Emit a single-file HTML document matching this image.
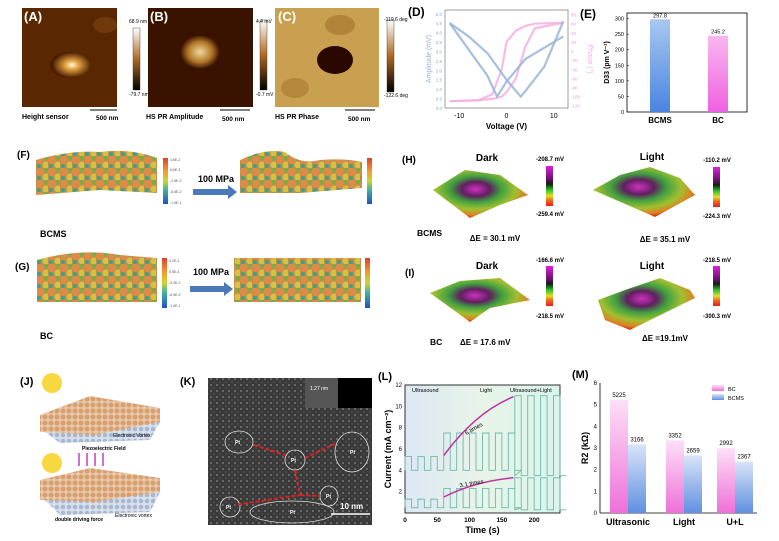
<!DOCTYPE html>
<html><head><meta charset="utf-8"><style>
body{margin:0;background:#fff;}
svg{display:block;font-family:"Liberation Sans",Arial,sans-serif;}
</style></head><body>
<svg id="fig" width="779" height="541" viewBox="0 0 779 541">
<defs>
<radialGradient id="gA" cx="0.55" cy="0.5" r="0.5"><stop offset="0" stop-color="#fff6d8"/><stop offset="0.35" stop-color="#e0a040"/><stop offset="1" stop-color="#4a1a00"/></radialGradient>
<radialGradient id="gB" cx="0.5" cy="0.5" r="0.5"><stop offset="0" stop-color="#f2d9a0"/><stop offset="0.6" stop-color="#b07828"/><stop offset="1" stop-color="#3a1000"/></radialGradient>
<linearGradient id="cbBrown" x1="0" y1="0" x2="0" y2="1"><stop offset="0" stop-color="#fff"/><stop offset="0.5" stop-color="#b06a20"/><stop offset="1" stop-color="#000"/></linearGradient>
<linearGradient id="cbRainbow" x1="0" y1="0" x2="0" y2="1"><stop offset="0" stop-color="#e04030"/><stop offset="0.3" stop-color="#f0a030"/><stop offset="0.5" stop-color="#c8d830"/><stop offset="0.7" stop-color="#40b0a0"/><stop offset="1" stop-color="#2050c0"/></linearGradient>
<linearGradient id="cbKPFM" x1="0" y1="0" x2="0" y2="1"><stop offset="0" stop-color="#e020e0"/><stop offset="0.35" stop-color="#601060"/><stop offset="0.45" stop-color="#102010"/><stop offset="0.6" stop-color="#30c030"/><stop offset="0.75" stop-color="#e0e020"/><stop offset="0.85" stop-color="#f07020"/><stop offset="1" stop-color="#e02020"/></linearGradient>
<radialGradient id="surf" cx="0.45" cy="0.4" r="0.6"><stop offset="0" stop-color="#d030c0"/><stop offset="0.25" stop-color="#602060"/><stop offset="0.45" stop-color="#40a040"/><stop offset="0.7" stop-color="#a0c030"/><stop offset="0.9" stop-color="#e08020"/><stop offset="1" stop-color="#d03020"/></radialGradient>
<linearGradient id="bcmsBar" x1="0" y1="0" x2="0" y2="1"><stop offset="0" stop-color="#a8c8f0"/><stop offset="1" stop-color="#4a84e0"/></linearGradient>
<linearGradient id="bcBar" x1="0" y1="0" x2="0" y2="1"><stop offset="0" stop-color="#f8b8f0"/><stop offset="1" stop-color="#f060e0"/></linearGradient>
<linearGradient id="mPink" x1="0" y1="0" x2="0" y2="1"><stop offset="0" stop-color="#fde0f8"/><stop offset="1" stop-color="#ee70d8"/></linearGradient>
<linearGradient id="mBlue" x1="0" y1="0" x2="0" y2="1"><stop offset="0" stop-color="#d8e4f8"/><stop offset="1" stop-color="#6090e0"/></linearGradient>
<linearGradient id="lBg" x1="0" y1="0" x2="1" y2="0"><stop offset="0" stop-color="#dce8f4"/><stop offset="0.5" stop-color="#e8f4e8"/><stop offset="1" stop-color="#d8f4ec"/></linearGradient>
<pattern id="balls" width="12" height="12" patternUnits="userSpaceOnUse"><rect width="12" height="12" fill="#b89050"/><circle cx="4" cy="4" r="4" fill="#e08a48"/><circle cx="10" cy="9" r="3.5" fill="#d8c040"/><circle cx="3" cy="10" r="2" fill="#40a080"/><circle cx="10" cy="2" r="2" fill="#70b040"/></pattern>
<pattern id="tem" width="6" height="6" patternUnits="userSpaceOnUse"><rect width="6" height="6" fill="#3a3a3a"/><circle cx="1" cy="1" r="1" fill="#777"/><circle cx="4" cy="4" r="0.8" fill="#5a5a5a"/></pattern>
<pattern id="slab" width="6" height="6" patternUnits="userSpaceOnUse"><rect width="6" height="6" fill="#e8c8a8"/><circle cx="3" cy="3" r="2.5" fill="#d8a070"/></pattern>
<pattern id="slab2" width="6" height="6" patternUnits="userSpaceOnUse"><rect width="6" height="6" fill="#d8e0ec"/><circle cx="3" cy="3" r="2.3" fill="#a8b8d0"/></pattern>
</defs>

<g>
<rect x="22" y="8" width="95" height="99" fill="#5a2800"/>
<ellipse cx="70" cy="65" rx="20" ry="13" fill="url(#gA)"/>
<ellipse cx="105" cy="25" rx="12" ry="8" fill="#7a4010" opacity="0.7"/>
<text x="24" y="21" font-size="13" font-weight="bold" fill="#fff">(A)</text>
<rect x="133" y="28" width="7" height="62" fill="url(#cbBrown)" stroke="#333" stroke-width="0.4"/>
<text x="129" y="23" font-size="5">68.9 nm</text><text x="129" y="96" font-size="5">-79.7 nm</text>
<text x="22" y="119" font-size="7" font-weight="bold">Height sensor</text>
<line x1="90" y1="110" x2="117" y2="110" stroke="#000"/><text x="96" y="120" font-size="6.5" font-weight="bold">500 nm</text>
</g>
<g>
<rect x="148" y="8" width="105" height="99" fill="#3a1200"/>
<ellipse cx="200" cy="52" rx="20" ry="17" fill="url(#gB)"/>
<text x="150" y="21" font-size="13" font-weight="bold" fill="#fff">(B)</text>
<rect x="260" y="20" width="7" height="70" fill="url(#cbBrown)" stroke="#333" stroke-width="0.4"/>
<text x="256" y="23" font-size="5">4.4 mV</text><text x="256" y="96" font-size="5">-0.7 mV</text>
<text x="146" y="119" font-size="7" font-weight="bold">HS PR Amplitude</text>
<line x1="220" y1="110" x2="250" y2="110" stroke="#000"/><text x="222" y="121" font-size="6.5" font-weight="bold">500 nm</text>
</g>
<g>
<rect x="275" y="8" width="104" height="99" fill="#c8a050"/>
<ellipse cx="340" cy="25" rx="15" ry="10" fill="#a87830" opacity="0.7"/>
<ellipse cx="295" cy="88" rx="14" ry="10" fill="#a87830" opacity="0.6"/>
<ellipse cx="335" cy="60" rx="18" ry="14" fill="#2a0800"/>
<text x="278" y="21" font-size="13" font-weight="bold" fill="#fff">(C)</text>
<text x="275" y="119" font-size="7" font-weight="bold">HS PR Phase</text>
<line x1="345" y1="110" x2="375" y2="110" stroke="#000"/><text x="348" y="121" font-size="6.5" font-weight="bold">500 nm</text>
</g>
<g>
<rect x="387" y="20" width="7" height="72" fill="url(#cbBrown)" stroke="#333" stroke-width="0.4"/>
<text x="384" y="21" font-size="5">-119.6 deg</text><text x="384" y="97" font-size="5">-122.6 deg</text>
</g>

<g id="panelD"><text x="408" y="16" font-size="12" font-weight="bold">(D)</text></g>
<g id="panelE"><text x="580" y="18" font-size="12" font-weight="bold">(E)</text></g>

<!-- F -->
<g>
<text x="17" y="158" font-size="10" font-weight="bold">(F)</text>
<path d="M36 160 Q70 150 100 152 Q130 148 157 158 L157 193 L100 190 L36 195 Z" fill="url(#balls)"/>
<rect x="163" y="158" width="5" height="46" fill="url(#cbRainbow)"/>
<g font-size="3.5" fill="#555"><text x="170" y="161">4.6E-2</text><text x="170" y="171">6.6E-3</text><text x="170" y="182">-2.6E-2</text><text x="170" y="193">-6.6E-2</text><text x="170" y="204">-1.0E-1</text></g>
<text x="198" y="182" font-size="9" font-weight="bold">100 MPa</text>
<path d="M193 189 L228 189 L228 185 L237 192 L228 199 L228 195 L193 195 Z" fill="#4a78b8"/>
<path d="M240 160 Q265 148 285 152 Q300 165 320 160 Q345 158 362 162 L362 188 L300 193 L240 193 Z" fill="url(#balls)"/>
<rect x="367" y="158" width="5" height="46" fill="url(#cbRainbow)"/>
<text x="40" y="237" font-size="9" font-weight="bold">BCMS</text>
</g>
<!-- G -->
<g>
<text x="15" y="270" font-size="10" font-weight="bold">(G)</text>
<path d="M37 260 Q80 248 120 255 L157 258 L157 302 L37 302 Z" fill="url(#balls)"/>
<rect x="162" y="258" width="5" height="50" fill="url(#cbRainbow)"/>
<g font-size="3.5" fill="#555"><text x="169" y="262">4.2E-2</text><text x="169" y="273">5.5E-3</text><text x="169" y="284">-3.2E-2</text><text x="169" y="296">-6.9E-2</text><text x="169" y="307">-1.0E-1</text></g>
<text x="193" y="275" font-size="9" font-weight="bold">100 MPa</text>
<path d="M190 286 L224 286 L224 282 L233 289 L224 296 L224 292 L190 292 Z" fill="#4a78b8"/>
<rect x="234" y="258" width="127" height="44" fill="url(#balls)"/>
<rect x="365" y="258" width="5" height="50" fill="url(#cbRainbow)"/>
<text x="40" y="339" font-size="9" font-weight="bold">BC</text>
</g>

<!-- H -->
<g font-weight="bold">
<text x="402" y="163" font-size="10">(H)</text>
<text x="487" y="161" font-size="10" text-anchor="middle">Dark</text>
<path d="M433 190 L465 170 L500 175 L528 195 L500 205 L470 218 Z" fill="url(#surf)"/>
<rect x="546" y="166" width="7" height="40" fill="url(#cbKPFM)"/>
<text x="550" y="161" font-size="6" text-anchor="middle">-208.7 mV</text><text x="550" y="216" font-size="6" text-anchor="middle">-259.4 mV</text>
<text x="652" y="160" font-size="10" text-anchor="middle">Light</text>
<path d="M593 190 L620 175 L650 167 L680 178 L695 195 L655 217 Z" fill="url(#surf)"/>
<rect x="713" y="167" width="7" height="40" fill="url(#cbKPFM)"/>
<text x="717" y="162" font-size="6" text-anchor="middle">-110.2 mV</text><text x="717" y="218" font-size="6" text-anchor="middle">-224.3 mV</text>
<text x="417" y="236" font-size="8.5">BCMS</text>
<text x="495" y="241" font-size="8" text-anchor="middle">ΔE = 30.1 mV</text>
<text x="665" y="242" font-size="8" text-anchor="middle">ΔE = 35.1 mV</text>
</g>
<!-- I -->
<g font-weight="bold">
<text x="405" y="276" font-size="10">(I)</text>
<text x="487" y="269" font-size="10" text-anchor="middle">Dark</text>
<path d="M430 293 L460 281 L500 278 L530 300 L490 308 L470 322 Z" fill="url(#surf)"/>
<rect x="546" y="266" width="7" height="40" fill="url(#cbKPFM)"/>
<text x="550" y="262" font-size="6" text-anchor="middle">-166.6 mV</text><text x="550" y="318" font-size="6" text-anchor="middle">-218.5 mV</text>
<text x="652" y="269" font-size="10" text-anchor="middle">Light</text>
<path d="M598 300 L625 290 L660 278 L690 290 L695 298 L630 330 L605 320 Z" fill="url(#surf)"/>
<rect x="713" y="266" width="7" height="40" fill="url(#cbKPFM)"/>
<text x="717" y="262" font-size="6" text-anchor="middle">-218.5 mV</text><text x="717" y="318" font-size="6" text-anchor="middle">-300.3 mV</text>
<text x="430" y="345" font-size="8.5">BC</text>
<text x="460" y="345" font-size="8">ΔE = 17.6 mV</text>
<text x="665" y="341" font-size="8" text-anchor="middle">ΔE =19.1mV</text>
</g>

<!-- J -->
<g>
<text x="20" y="385" font-size="11" font-weight="bold">(J)</text>
<circle cx="52" cy="383" r="10" fill="#f8d840"/>
<path d="M40 415 L90 396 L160 408 L160 422 L95 435 L40 432 Z" fill="url(#slab)"/>
<path d="M45 432 L95 435 L160 422 L150 440 L60 443 Z" fill="url(#slab2)"/>
<text x="113" y="437" font-size="5">Electronic Vortex</text>
<text x="82" y="450" font-size="5" font-weight="bold">Piezoelectric  Field</text>
<g stroke="#d070d0" stroke-width="2"><line x1="79" y1="453" x2="79" y2="466"/><line x1="87" y1="453" x2="87" y2="466"/><line x1="95" y1="453" x2="95" y2="466"/><line x1="103" y1="453" x2="103" y2="466"/></g>
<circle cx="52" cy="463" r="10" fill="#f8d840"/>
<path d="M40 480 L90 468 L160 478 L160 492 L95 502 L40 500 Z" fill="url(#slab)"/>
<path d="M45 500 L95 502 L160 492 L150 512 L60 515 Z" fill="url(#slab2)"/>
<text x="115" y="517" font-size="5">Electronic vortex</text>
<text x="55" y="521" font-size="5" font-weight="bold">double driving force</text>
</g>

<!-- K -->
<g>
<text x="180" y="385" font-size="11" font-weight="bold">(K)</text>
<rect x="208" y="378" width="164" height="147" fill="url(#tem)"/>
<rect x="305" y="378" width="33" height="30" fill="#555"/>
<rect x="338" y="378" width="34" height="30" fill="#000"/>
<text x="310" y="390" font-size="5" fill="#fff">1.27 nm</text>
<g fill="none" stroke="#ddd" stroke-width="0.8">
<ellipse cx="239" cy="442" rx="14" ry="11"/><ellipse cx="295" cy="460" rx="10" ry="10"/>
<ellipse cx="352" cy="452" rx="17" ry="20"/><ellipse cx="329" cy="496" rx="9" ry="10"/>
<ellipse cx="230" cy="507" rx="10" ry="10"/><ellipse cx="292" cy="512" rx="42" ry="11"/></g>
<g font-size="5" fill="#fff" font-weight="bold"><text x="235" y="444">Pt</text><text x="291" y="462">Pt</text><text x="350" y="454">Pt</text><text x="326" y="498">Pt</text><text x="226" y="509">Pt</text><text x="290" y="514">Pt</text></g>
<path d="M254 445 L285 455 M305 458 L335 444 M295 470 L300 495 L235 505 M300 495 L320 496" stroke="#e02020" stroke-width="2" fill="none" stroke-dasharray="4 2"/>
<text x="340" y="509" font-size="8" fill="#fff" font-weight="bold">10 nm</text>
<line x1="331" y1="514" x2="370" y2="514" stroke="#fff" stroke-width="1.5"/>
</g>

<g id="panelL"><text x="378" y="380" font-size="11" font-weight="bold">(L)</text></g>
<g id="panelM"><text x="572" y="378" font-size="11" font-weight="bold">(M)</text></g>
</svg>
<script>
var NS="http://www.w3.org/2000/svg";
function mk(parent,tag,attrs,txt){var e=document.createElementNS(NS,tag);for(var k in attrs)e.setAttribute(k,attrs[k]);if(txt!==undefined)e.textContent=txt;parent.appendChild(e);return e;}

// ---------- D data ----------
var dVoltFwd=[-12,-8,-4,-2,0,4,8,12];
var dAmpFwd=[4.5,3.1,1.7,0.6,1.4,2.6,3.2,3.8];
var dVoltRev=[12,8,4,3,0,-4,-8,-12];
var dAmpRev=[4.6,2.2,0.9,0.6,1.5,2.9,3.8,4.5];
var dPhaseVolt=[-12,-6,-3,-1,0,2,4,6,12];
var dPhaseUp=[-110,-108,-95,-40,20,45,55,60,62];
var dPhaseDown=[-110,-108,-105,-100,-90,-60,10,50,62];
var dXTicks=[-10,0,10];
var dYTicks=[0,0.5,1,1.5,2,2.5,3,3.5,4,4.5,5];
var dY2Ticks=[-120,-100,-80,-60,-40,-20,0,20,40,60,80];
(function(){
 var g=document.getElementById('panelD');
 var L=445,R=568,T=10,B=108;
 function x(v){return L+(v+13)/(26)*(R-L);}
 function y(v){return B-(v-0)/(5.2)*(B-T);}
 function y2(v){return B-(v+125)/(215)*(B-T);}
 mk(g,'rect',{x:L,y:T,width:R-L,height:B-T,fill:'none',stroke:'#888','stroke-width':0.8});
 dXTicks.forEach(function(t){var tx=mk(g,'text',{x:x(t),y:B+10,'font-size':7,'text-anchor':'middle'},t);});
 dYTicks.forEach(function(t){mk(g,'text',{x:L-3,y:y(t)+2,'font-size':4.5,fill:'#8aa8d0','text-anchor':'end'},t.toFixed(1));});
 dY2Ticks.forEach(function(t){mk(g,'text',{x:R+3,y:y2(t)+2,'font-size':4.5,fill:'#e8a0d8'},t);});
 function poly(xs,ys,fy,col,name){var p=xs.map(function(v,i){return x(v)+','+fy(ys[i]);}).join(' ');var e=mk(g,'polyline',{points:p,fill:'none',stroke:col,'stroke-width':2.2,opacity:0.85});}
 poly(dPhaseVolt,dPhaseUp,y2,'#f4b0e0','phase-loop-up');
 poly(dPhaseVolt,dPhaseDown,y2,'#f4b0e0','phase-loop-down');
 poly(dVoltFwd,dAmpFwd,y,'#98b4d8','amplitude-forward');
 poly(dVoltRev,dAmpRev,y,'#98b4d8','amplitude-reverse');
 mk(g,'text',{x:(L+R)/2,y:B+21,'font-size':8,'font-weight':'bold','text-anchor':'middle'},'Voltage (V)');
 mk(g,'text',{x:0,y:0,'font-size':7,fill:'#98b4d8','text-anchor':'middle',transform:'translate('+(L-14)+','+((T+B)/2)+') rotate(-90)'},'Amplitude (mV)');
 mk(g,'text',{x:0,y:0,'font-size':7,fill:'#f4b0e0','text-anchor':'middle',transform:'translate('+(R+20)+','+((T+B)/2)+') rotate(90)'},'Phase (°)');
})();

// ---------- E data ----------
var eCats=['BCMS','BC'];
var eVals=[297.8,245.2];
var eTicks=[0,50,100,150,200,250,300];
(function(){
 var g=document.getElementById('panelE');
 var L=627,R=747,T=13,B=112,max=318;
 function y(v){return B-v/max*(B-T);}
 mk(g,'rect',{x:L,y:T,width:R-L,height:B-T,fill:'none',stroke:'#000','stroke-width':0.8});
 eTicks.forEach(function(t){mk(g,'text',{x:L-3,y:y(t)+2,'font-size':5.5,'text-anchor':'end'},t);mk(g,'line',{x1:L,x2:L+2,y1:y(t),y2:y(t),stroke:'#000','stroke-width':0.5});});
 var fills=['url(#bcmsBar)','url(#bcBar)'];var cx=[660,718];
 eVals.forEach(function(v,i){
  var r=mk(g,'rect',{x:cx[i]-10,y:y(v),width:20,height:B-y(v),fill:fills[i]});
  
  mk(g,'text',{x:cx[i],y:y(v)-2,'font-size':5.5,'text-anchor':'middle'},v);
  mk(g,'text',{x:cx[i],y:B+11,'font-size':8,'font-weight':'bold','text-anchor':'middle'},eCats[i]);
 });
 mk(g,'text',{x:0,y:0,'font-size':7,'font-weight':'bold','text-anchor':'middle',transform:'translate('+(L-18)+','+((T+B)/2)+') rotate(-90)'},'D33 (pm V⁻¹)');
})();

// ---------- L data ----------
var lPhaseStart=[0,60,170];
var lPhaseEnd=[60,170,240];
var lUpperOn=[5.3,7.5,11];
var lUpperOff=[4,4,3.5];
var lLowerOn=[1.3,2.3,3.3];
var lLowerOff=[0.5,0.5,0.3];
var lXTicks=[0,50,100,150,200];
var lYTicks=[2,4,6,8,10,12];
var lLabels=['Ultrasound','Light','Ultrasound+Light'];
(function(){
 var g=document.getElementById('panelL');
 var L=405,R=560,T=385,B=513;
 function x(v){return L+v/240*(R-L);}
 function y(v){return B-v/12*(B-T);}
 mk(g,'rect',{x:L,y:T,width:R-L,height:B-T,fill:'url(#lBg)'});
 mk(g,'rect',{x:L,y:T,width:R-L,height:B-T,fill:'none',stroke:'#000','stroke-width':0.8});
 lXTicks.forEach(function(t){mk(g,'text',{x:x(t),y:B+9,'font-size':6.5,'font-weight':'bold','text-anchor':'middle'},t);});
 lYTicks.forEach(function(t){mk(g,'text',{x:L-3,y:y(t)+2,'font-size':6,'text-anchor':'end'},t);});
 var lx=[412,480,510];
 lLabels.forEach(function(s,i){mk(g,'text',{x:lx[i],y:T+7,'font-size':5.5},s);});
 function wave(on,off,name){
  var pts=[];
  lPhaseStart.forEach(function(s,i){for(var t=s;t<lPhaseEnd[i];t+=20){pts.push([t,off[i]],[t,on[i]],[t+10,on[i]],[t+10,off[i]],[t+20,off[i]]);}});
  var e=mk(g,'polyline',{points:pts.map(function(p){return x(p[0])+','+y(p[1]);}).join(' '),fill:'none',stroke:'#70b8a8','stroke-width':0.9});
  
 }
 wave(lUpperOn,lUpperOff,'current-upper');
 wave(lLowerOn,lLowerOff,'current-lower');
 mk(g,'path',{d:'M'+x(60)+' '+y(5.4)+' Q'+x(110)+' '+y(9.5)+' '+x(168)+' '+y(10.9),stroke:'#c030a0','stroke-width':1.5,fill:'none'});
 mk(g,'path',{d:'M'+x(60)+' '+y(1.5)+' Q'+x(110)+' '+y(3)+' '+x(168)+' '+y(3.3),stroke:'#c030a0','stroke-width':1.5,fill:'none'});
 mk(g,'text',{x:0,y:0,'font-size':6,transform:'translate('+x(95)+','+y(7.3)+') rotate(-30)'},'6 times');
 mk(g,'text',{x:0,y:0,'font-size':6,transform:'translate('+x(85)+','+y(2.4)+') rotate(-10)'},'3.1 times');
 mk(g,'text',{x:(L+R)/2,y:B+20,'font-size':9,'font-weight':'bold','text-anchor':'middle'},'Time (s)');
 mk(g,'text',{x:0,y:0,'font-size':9,'font-weight':'bold','text-anchor':'middle',transform:'translate('+(L-14)+','+((T+B)/2)+') rotate(-90)'},'Current (mA cm⁻²)');
})();

// ---------- M data ----------
var mCats=['Ultrasonic','Light','U+L'];
var mBC=[5.225,3.352,2.992];
var mBCMS=[3.166,2.659,2.367];
var mBCLabels=['5225','3352','2992'];
var mBCMSLabels=['3166','2659','2367'];
var mYTicks=[0,1,2,3,4,5,6];
(function(){
 var g=document.getElementById('panelM');
 var L=600,R=757,T=383,B=513;
 function y(v){return B-v/6*(B-T);}
 mk(g,'line',{x1:L,x2:L,y1:T,y2:B,stroke:'#000','stroke-width':0.8});
 mk(g,'line',{x1:L,x2:R,y1:B,y2:B,stroke:'#000','stroke-width':0.8});
 mYTicks.forEach(function(t){mk(g,'text',{x:L-3,y:y(t)+2,'font-size':6,'text-anchor':'end'},t);});
 var cx=[628,684,735];
 mCats.forEach(function(c,i){
  var a=mk(g,'rect',{x:cx[i]-18,y:y(mBC[i]),width:18,height:B-y(mBC[i]),fill:'url(#mPink)'});
  
  var b=mk(g,'rect',{x:cx[i],y:y(mBCMS[i]),width:18,height:B-y(mBCMS[i]),fill:'url(#mBlue)'});
  
  mk(g,'text',{x:cx[i]-9,y:y(mBC[i])-3,'font-size':6,'text-anchor':'middle'},mBCLabels[i]);
  mk(g,'text',{x:cx[i]+9,y:y(mBCMS[i])-3,'font-size':6,'text-anchor':'middle'},mBCMSLabels[i]);
  mk(g,'text',{x:cx[i],y:B+12,'font-size':9,'font-weight':'bold','text-anchor':'middle'},c);
 });
 mk(g,'rect',{x:712,y:385,width:12,height:6,fill:'url(#mPink)'});mk(g,'text',{x:728,y:391,'font-size':5.5},'BC');
 mk(g,'rect',{x:712,y:394,width:12,height:6,fill:'url(#mBlue)'});mk(g,'text',{x:728,y:400,'font-size':5.5},'BCMS');
 mk(g,'text',{x:0,y:0,'font-size':9,'font-weight':'bold','text-anchor':'middle',transform:'translate('+(L-12)+','+((T+B)/2)+') rotate(-90)'},'R2 (kΩ)');
})();
</script>
</body></html>
